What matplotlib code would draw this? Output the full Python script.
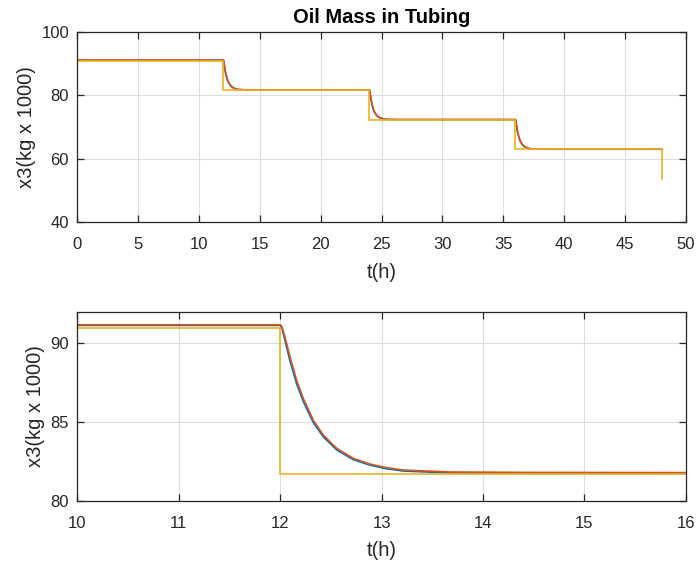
#Oil mass in tubing - step response vs setpoint

import numpy as np
import matplotlib.pyplot as plt

plt.rcParams['font.family'] = ['Liberation Sans', 'DejaVu Sans']

# zoomed panel values (t in hours, x3 in kg x 1000)
t_zoom = [10.0, 12.0, 12.016, 12.048, 12.098, 12.163, 12.229, 12.327, 12.426,
          12.558, 12.722, 12.887, 13.051, 13.215, 13.675, 14.5, 16.0]
x3_red = [91.18, 91.18, 91.08, 90.38, 89.11, 87.64, 86.48, 85.11, 84.16,
          83.32, 82.68, 82.32, 82.09, 81.94, 81.82, 81.79, 81.78]
x3_blue = [91.14, 91.14, 91.00, 90.16, 88.84, 87.40, 86.28, 84.95, 84.04,
           83.22, 82.60, 82.25, 82.02, 81.88, 81.76, 81.73, 81.72]
# setpoint (yellow) in zoomed panel
t_sp_zoom = [10.0, 12.0, 12.0, 16.0]
x3_sp_zoom = [91.0, 91.0, 81.67, 81.67]

# full run: step times and levels
t_steps = [12, 24, 36]
lvl_red = [91.18, 81.78, 72.40, 63.05]
lvl_blue = [91.14, 81.72, 72.35, 63.00]
lvl_sp = [91.0, 81.67, 72.30, 62.95, 53.7]
t_end = 48

# drop shape after each step (hours after step, fraction of step still left)
dt_shape = [0.0, 0.016, 0.048, 0.098, 0.163, 0.229, 0.327, 0.426, 0.558,
            0.722, 0.887, 1.051, 1.215, 1.675, 2.5]
frac_red = [1.0, 0.99, 0.915, 0.78, 0.625, 0.5, 0.355, 0.254, 0.165,
            0.097, 0.058, 0.033, 0.017, 0.004, 0.0]
frac_blue = [1.0, 0.98, 0.89, 0.75, 0.60, 0.48, 0.34, 0.245, 0.16,
             0.094, 0.056, 0.032, 0.017, 0.004, 0.0]


def build(levels, frac):
    t = [0.0]
    y = [levels[0]]
    for i, ts in enumerate(t_steps):
        for d, f in zip(dt_shape, frac):
            t.append(ts + d)
            y.append(levels[i + 1] + f * (levels[i] - levels[i + 1]))
    t.append(t_end)
    y.append(levels[-1])
    return t, y


def build_sp(levels):
    t = [0.0]
    y = [levels[0]]
    for i, ts in enumerate(t_steps + [t_end]):
        t += [ts, ts]
        y += [levels[i], levels[i + 1]]
    return t, y


c_blue = '#0072BD'
c_red = '#D95319'
c_yel = '#EDB120'
c_axis = '#262626'

fig = plt.figure(figsize=(6.97, 5.65), dpi=100)
ax1 = fig.add_axes([0.111, 0.607, 0.873, 0.336])
ax2 = fig.add_axes([0.111, 0.114, 0.873, 0.334])

tb, yb = build(lvl_blue, frac_blue)
tr, yr = build(lvl_red, frac_red)
ts, ys = build_sp(lvl_sp)
ax1.plot(tb, yb, color=c_blue, lw=1.2)
ax1.plot(tr, yr, color=c_red, lw=1.2)
ax1.plot(ts, ys, color=c_yel, lw=1.2)

ax2.plot(t_zoom, x3_blue, color=c_blue, lw=1.2)
ax2.plot(t_zoom, x3_red, color=c_red, lw=1.2)
ax2.plot(t_sp_zoom, x3_sp_zoom, color=c_yel, lw=1.2)

ax1.set_xlim(0, 50)
ax1.set_ylim(40, 100)
ax1.set_xticks(np.arange(0, 51, 5))
ax1.set_yticks([40, 60, 80, 100])
ax2.set_xlim(10, 16)
ax2.set_ylim(80, 92)
ax2.set_xticks(np.arange(10, 17, 1))
ax2.set_yticks([80, 85, 90])

for ax in (ax1, ax2):
    ax.grid(True, color='#dedede', lw=0.8)
    ax.set_axisbelow(True)
    for s in ax.spines.values():
        s.set_color(c_axis)
        s.set_linewidth(0.9)
    ax.tick_params(direction='in', top=True, right=True, length=5,
                   width=0.9, color=c_axis, labelsize=12, labelcolor=c_axis)
    ax.tick_params(axis='x', pad=11)
    ax.tick_params(axis='y', pad=6)
    ax.set_xlabel('t(h)', fontsize=14.5, color=c_axis)
    ax.set_ylabel('x3(kg x 1000)', fontsize=14.5, color=c_axis)

ax1.xaxis.set_label_coords(0.5, -0.216)
ax2.xaxis.set_label_coords(0.5, -0.214)
ax1.yaxis.set_label_coords(-0.068, 0.5)
ax2.yaxis.set_label_coords(-0.053, 0.5)

ax1.set_title('Oil Mass in Tubing', fontsize=14.5, fontweight='bold', color='black', pad=6.5)

fig.savefig('out.png', dpi=100)
